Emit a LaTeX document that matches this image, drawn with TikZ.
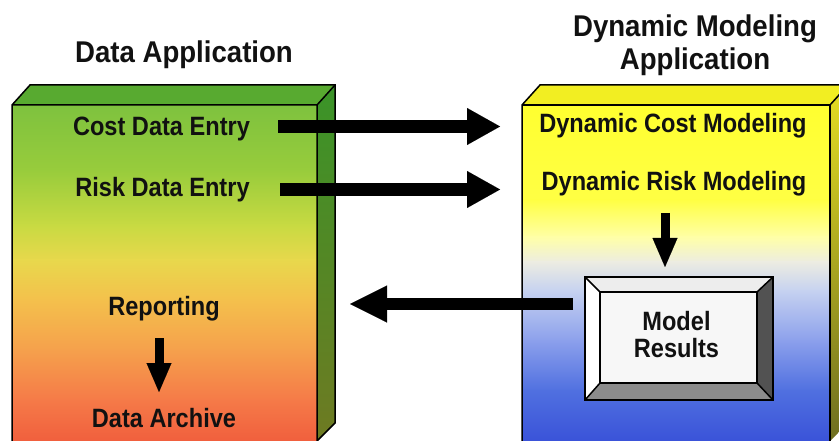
\documentclass[tikz,border=0pt]{standalone}
\usepackage{fontspec}
\setmainfont{Liberation Sans}
\newfontfamily\dfont[FakeStretch=0.89]{Liberation Sans}
\newfontfamily\tfont[FakeStretch=0.92]{Liberation Sans}
\usetikzlibrary{arrows.meta}
% left box gradient
\definecolor{lA}{HTML}{7EC23E}
\definecolor{lB}{HTML}{98CC3C}
\definecolor{lC}{HTML}{C8DA42}
\definecolor{lD}{HTML}{E8D84C}
\definecolor{lE}{HTML}{F4C04C}
\definecolor{lF}{HTML}{F5A04C}
\definecolor{lG}{HTML}{F57A48}
\definecolor{lH}{HTML}{F05C3C}
% right box gradient
\definecolor{rA}{HTML}{FFFF30}
\definecolor{rB}{HTML}{FFFF44}
\definecolor{rC}{HTML}{FFFFA8}
\definecolor{rD}{HTML}{ECECE2}
\definecolor{rE}{HTML}{C6D2F0}
\definecolor{rF}{HTML}{8CA0EC}
\definecolor{rG}{HTML}{5070E0}
\definecolor{rH}{HTML}{3850D8}
% faces
\definecolor{lside1}{HTML}{3A9428}
\definecolor{lside2}{HTML}{6E7A22}
\definecolor{ltop}{HTML}{58AA30}
\definecolor{rside1}{HTML}{E6DE22}
\definecolor{rside2}{HTML}{6E6E20}
\definecolor{rtop}{HTML}{F2EE22}
\definecolor{txtc}{HTML}{111111}
\tikzset{
  edge/.style={draw=black, line width=1.5pt, line join=miter},
  lbl/.style={font=\dfont\bfseries\fontsize{26.5}{27}\selectfont, text=txtc, anchor=base, inner sep=0pt},
  ttl/.style={font=\tfont\bfseries\fontsize{30}{33}\selectfont, text=txtc, anchor=base, inner sep=0pt},
  bigarrow/.style={draw=black, line width=13pt, -{Triangle[length=33pt,width=37pt,line width=0.01pt]}},
  backarrow/.style={draw=black, line width=12pt, -{Triangle[length=37pt,width=37pt,line width=0.01pt]}},
  downarrow/.style={draw=black, line width=9pt, -{Triangle[length=29pt,width=25pt,line width=0.01pt]}},
}
\begin{document}
\begin{tikzpicture}[x=1pt,y=-1pt]
\useasboundingbox (0,0) rectangle (839,441);
\fill[white] (0,0) rectangle (839,441);
\begin{scope}
\clip (0,0) rectangle (839,441);
% ---------- left box ----------
\foreach \ya/\yb/\ca/\cb in {105/170/lA/lB,170/225/lB/lC,225/260/lC/lD,260/300/lD/lE,300/350/lE/lF,350/400/lF/lG,400/445/lG/lH}
  \shade[top color=\ca, bottom color=\cb] (12,\ya) rectangle (317,\yb+1);
\shade[top color=lside1, bottom color=lside2] (317,105) -- (335,85) -- (335,423) -- (317,441) -- cycle;
\fill[ltop] (12,105) -- (30,85) -- (335,85) -- (317,105) -- cycle;
\draw[edge] (12,450) -- (12,105) -- (30,85) -- (335,85) -- (335,423) -- (317,441) -- (317,105) -- (12,105);
\draw[edge] (317,105) -- (335,85);
% ---------- right box ----------
\foreach \ya/\yb/\ca/\cb in {105/200/rA/rB,200/237/rB/rC,237/262/rC/rD,262/290/rD/rE,290/340/rE/rF,340/390/rF/rG,390/445/rG/rH}
  \shade[top color=\ca, bottom color=\cb] (522,\ya) rectangle (830,\yb+1);
\shade[top color=rside1, bottom color=rside2] (830,105) -- (848,85) -- (848,423) -- (830,441) -- cycle;
\fill[rtop] (522,105) -- (540,85) -- (848,85) -- (830,105) -- cycle;
\draw[edge] (522,450) -- (522,105) -- (540,85) -- (848,85);
\draw[edge] (522,105) -- (830,105) -- (830,450);
\draw[edge] (830,105) -- (848,85);
% ---------- model results bevel ----------
\fill[white!93!black] (585,277) -- (773,277) -- (757,292) -- (600,292) -- cycle;
\fill[white] (585,277) -- (600,292) -- (600,383) -- (585,400) -- cycle;
\fill[black!68] (773,277) -- (773,400) -- (757,383) -- (757,292) -- cycle;
\fill[black!45] (585,400) -- (773,400) -- (757,383) -- (600,383) -- cycle;
\fill[white!97!black] (600,292) rectangle (757,383);
\draw[edge] (600,292) rectangle (757,383);
\draw[edge] (585,277) -- (600,292) (773,277) -- (757,292) (773,400) -- (757,383) (585,400) -- (600,383);
\end{scope}
\node[edge, fill=none, minimum width=188pt, minimum height=123pt, inner sep=0pt] (mr) at (679,338.5) {};
% ---------- titles ----------
\node[ttl] (t1) at (184,63) {Data Application};
\node[ttl] (t2) at (695,37) {Dynamic Modeling};
\node[ttl] (t3) at (695,70) {Application};
% ---------- labels ----------
\node[lbl] (cde) at (161.5,136) {Cost Data Entry};
\node[lbl] (rde) at (162.5,197) {Risk Data Entry};
\node[lbl] (rep) at (164,315) {Reporting};
\node[lbl] (arch) at (164,427) {Data Archive};
\node[lbl] (dcm) at (673,133) {Dynamic Cost Modeling};
\node[lbl] (drm) at (674,191) {Dynamic Risk Modeling};
\node[lbl] (mrt1) at (676.5,330) {Model};
\node[lbl] (mrt2) at (676.5,357) {Results};
% ---------- connectors ----------
\coordinate (a1s) at (278,126.5);
\coordinate (a1e) at (500,126.5);
\coordinate (a2s) at (280,189.5);
\coordinate (a2e) at (500,189.5);
\coordinate (a3s) at (573,304);
\coordinate (a3e) at (350,304);
\coordinate (a4s) at (159,338);
\coordinate (a4e) at (159,392);
\coordinate (a5s) at (665,213);
\coordinate (a5e) at (665,267);
\draw[bigarrow] (a1s) -- (a1e);
\draw[bigarrow] (a2s) -- (a2e);
\draw[backarrow] (a3s) -- (a3e);
\draw[downarrow] (a4s) -- (a4e);
\draw[downarrow] (a5s) -- (a5e);
\end{tikzpicture}
\end{document}
